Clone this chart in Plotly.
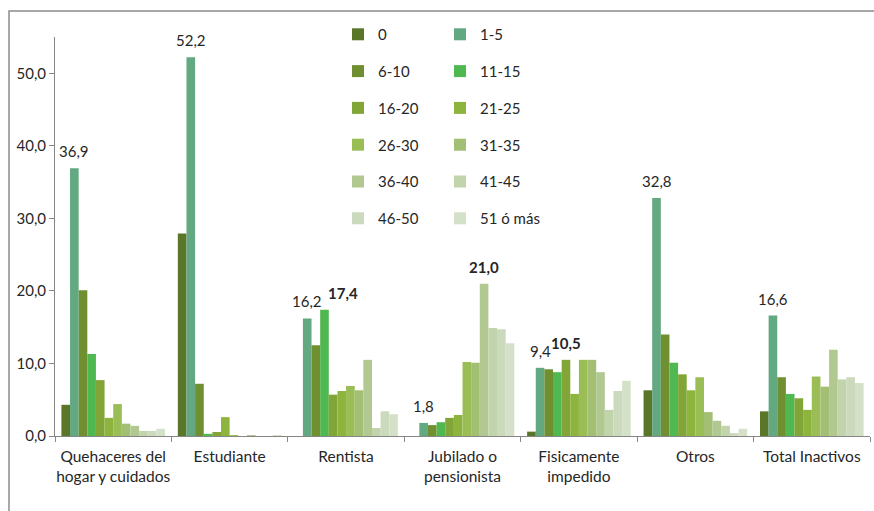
import plotly.graph_objects as go

# Categories (x axis) and the twelve series shown in each group
categories = [
    "Quehaceres del<br>hogar y cuidados",
    "Estudiante",
    "Rentista",
    "Jubilado o<br>pensionista",
    "Fisicamente<br>impedido",
    "Otros",
    "Total Inactivos",
]

series_names = ["0", "1-5", "6-10", "11-15", "16-20", "21-25",
                "26-30", "31-35", "36-40", "41-45", "46-50", "51 ó más"]

s_0 = [4.3, 27.9, 0.0, 0.0, 0.6, 6.3, 3.4]
s_1_5 = [36.9, 52.2, 16.2, 1.8, 9.4, 32.8, 16.6]
s_6_10 = [20.1, 7.2, 12.5, 1.5, 9.2, 14.0, 8.1]
s_11_15 = [11.3, 0.3, 17.4, 1.9, 8.8, 10.1, 5.8]
s_16_20 = [7.7, 0.55, 5.7, 2.5, 10.5, 8.5, 5.2]
s_21_25 = [2.5, 2.6, 6.2, 2.9, 5.8, 6.3, 3.6]
s_26_30 = [4.4, 0.1, 6.9, 10.2, 10.5, 8.1, 8.2]
s_31_35 = [1.7, 0.0, 6.3, 10.1, 10.5, 3.3, 6.8]
s_36_40 = [1.4, 0.1, 10.5, 21.0, 8.8, 2.1, 11.9]
s_41_45 = [0.7, 0.0, 1.1, 14.9, 3.6, 1.4, 7.8]
s_46_50 = [0.7, 0.0, 3.4, 14.7, 6.2, 0.4, 8.1]
s_51_mas = [1.0, 0.1, 3.0, 12.8, 7.6, 1.0, 7.3]

series_values = [s_0, s_1_5, s_6_10, s_11_15, s_16_20, s_21_25,
                 s_26_30, s_31_35, s_36_40, s_41_45, s_46_50, s_51_mas]

series_colors = ["#5a7628", "#62a982", "#6f8f30", "#50b850", "#82a538", "#8db43d",
                 "#9abd55", "#a2bf74", "#b1c990", "#c2d4ac", "#cbd9bc", "#d5e0c8"]

# Value labels: (category index, series index, bold, extra x shift in px)
value_labels = [
    (0, 1, False, 0),
    (1, 1, False, 0),
    (2, 1, False, 0),
    (2, 3, True, 19),
    (3, 1, False, 0),
    (3, 8, True, 0),
    (4, 1, False, 0),
    (4, 4, True, 0),
    (5, 1, False, 0),
    (6, 1, False, 0),
]

FONT = "Lato, 'Open Sans', sans-serif"
TEXT = "#262626"
AXIS = "#868686"
BARGAP = 0.11

fig = go.Figure()
for i, (name, vals, col) in enumerate(zip(series_names, series_values, series_colors)):
    fig.add_trace(go.Bar(
        name=name,
        x=categories,
        y=vals,
        marker=dict(color=col, line=dict(width=0)),
        legend="legend" if i % 2 == 0 else "legend2",
        legendgroup=name,
        hoverinfo="x+y+name",
    ))

# Position of bar j inside a group, in category units
group_w = 1 - BARGAP
bar_w = group_w / len(series_names)
annotations = []
for cat_i, ser_j, bold, dx in value_labels:
    v = series_values[ser_j][cat_i]
    xpos = cat_i - group_w / 2 + (ser_j + 0.5) * bar_w
    txt = f"{v:.1f}".replace(".", ",")
    if bold:
        txt = f"<b>{txt}</b>"
    annotations.append(dict(
        x=xpos, y=v, xref="x", yref="y", text=txt, showarrow=False,
        xanchor="center", yanchor="bottom", yshift=6, xshift=dx,
        font=dict(family=FONT, size=15, color=TEXT),
    ))

legend_common = dict(
    orientation="v", xanchor="left", yanchor="top", bgcolor="rgba(0,0,0,0)",
    font=dict(family=FONT, size=15, color=TEXT), tracegroupgap=14.3,
    traceorder="grouped", itemclick=False, itemdoubleclick=False,
)

fig.update_layout(
    width=874, height=511,
    margin=dict(l=55, r=4, t=37, b=75, autoexpand=False),
    paper_bgcolor="white", plot_bgcolor="white",
    barmode="group", bargap=BARGAP, bargroupgap=0,
    separators=",.",
    font=dict(family=FONT, size=15, color=TEXT),
    showlegend=True,
    legend=dict(x=(338 - 55) / 815, y=1.0475, **legend_common),
    legend2=dict(x=(440 - 55) / 815, y=1.0475, **legend_common),
    annotations=annotations,
    xaxis=dict(
        type="category", showline=True, linecolor=AXIS, linewidth=1,
        ticks="outside", tickson="boundaries", ticklen=5, tickcolor=AXIS,
        tickangle=0, automargin=False, ticklabelstandoff=6,
        showgrid=False, tickfont=dict(family=FONT, size=15.5, color=TEXT),
    ),
    yaxis=dict(
        range=[0, 55], dtick=10, tickformat=".1f", showline=True,
        linecolor=AXIS, linewidth=1, ticks="outside", ticklen=5, tickcolor=AXIS,
        automargin=False,
        showgrid=False, zeroline=False, tickfont=dict(family=FONT, size=15, color=TEXT),
    ),
    shapes=[dict(
        type="rect", xref="paper", yref="paper",
        x0=(9 - 55) / 815, x1=(890 - 55) / 815,
        y0=(436 - 530) / 399, y1=(436 - 11) / 399,
        line=dict(color="#8c8c8c", width=1.5), fillcolor="rgba(0,0,0,0)", layer="below",
    )],
)

fig.write_html("out.html")
